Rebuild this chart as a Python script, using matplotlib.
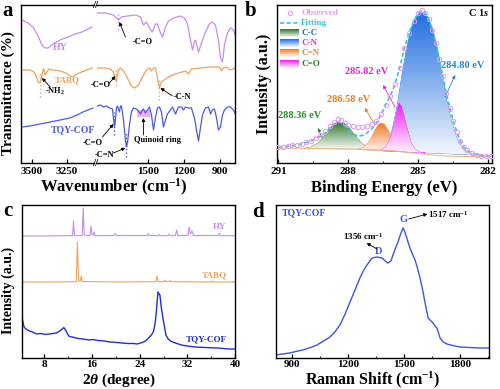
import numpy as np
import matplotlib
matplotlib.use("Agg")
import matplotlib.pyplot as plt
from matplotlib.colors import LinearSegmentedColormap
from matplotlib.ticker import MultipleLocator

# ---------------- data ----------------
# (a) FTIR, (wavenumber, offset transmittance)
hy_ir_hi = [(3571, 143), (3529, 140), (3493, 136), (3457, 127), (3429, 118), (3407, 115), (3386, 115),
            (3350, 119), (3300, 123), (3243, 126), (3193, 129), (3143, 131), (3100, 134), (3071, 136)]
hy_ir_lo = [(1925, 150), (1858, 150), (1792, 148), (1767, 145), (1750, 143), (1725, 146), (1675, 147),
            (1608, 148), (1567, 146), (1542, 138), (1517, 141), (1492, 135), (1467, 131), (1442, 139),
            (1425, 139), (1400, 130), (1383, 126), (1358, 136), (1333, 142), (1292, 145), (1233, 147),
            (1200, 145), (1175, 139), (1150, 123), (1133, 113), (1117, 121), (1108, 123), (1083, 111),
            (1058, 120), (1025, 131), (992, 139), (967, 141), (942, 138), (917, 123), (900, 105),
            (883, 101), (867, 118), (842, 130), (817, 135), (792, 133), (779, 128)]
tabq_ir_hi = [(3571, 93), (3514, 93), (3486, 91), (3471, 87), (3457, 81), (3443, 80), (3429, 87),
              (3421, 94), (3414, 93), (3407, 88), (3393, 91), (3379, 94), (3350, 93), (3300, 92),
              (3257, 90), (3229, 87), (3207, 86), (3179, 89), (3129, 92), (3071, 95)]
tabq_ir_lo = [(1925, 95), (1858, 95), (1817, 94), (1792, 91), (1775, 83), (1767, 82), (1750, 93),
              (1733, 95), (1708, 92), (1675, 85), (1642, 77), (1617, 75), (1583, 78), (1550, 86),
              (1517, 93), (1492, 95), (1475, 92), (1458, 95), (1442, 95), (1425, 85), (1408, 75),
              (1392, 81), (1358, 84), (1317, 87), (1250, 90), (1192, 92), (1167, 89), (1142, 94),
              (1067, 95), (983, 96), (908, 96), (892, 92), (875, 95), (850, 96), (817, 93), (779, 95)]
cof_ir_hi = [(3571, 36), (3514, 37), (3443, 39), (3371, 41), (3300, 43), (3229, 45), (3179, 48),
             (3136, 51), (3100, 53), (3064, 55)]
cof_ir_lo = [(1925, 57), (1900, 58), (1875, 56), (1850, 57), (1825, 55), (1800, 54), (1792, 45),
             (1783, 36), (1775, 43), (1767, 55), (1758, 57), (1742, 51), (1733, 57), (1725, 57),
             (1708, 43), (1692, 23), (1683, 16), (1675, 20), (1658, 38), (1642, 51), (1625, 55),
             (1600, 54), (1583, 52), (1567, 49), (1550, 53), (1542, 54), (1525, 50), (1508, 53),
             (1492, 56), (1475, 48), (1458, 33), (1442, 45), (1425, 55), (1408, 56), (1392, 51),
             (1375, 36), (1358, 43), (1342, 49), (1317, 53), (1300, 56), (1275, 49), (1250, 56),
             (1225, 56), (1208, 53), (1192, 56), (1167, 55), (1142, 55), (1117, 45), (1100, 33),
             (1083, 22), (1067, 35), (1050, 48), (1025, 55), (1000, 56), (983, 49), (967, 53),
             (950, 54), (933, 45), (917, 33), (900, 36), (883, 48), (867, 53), (842, 56),
             (817, 56), (792, 53), (779, 50)]

# (b) XPS C 1s, (binding energy, intensity)
xps_observed = [(291.0, 16), (290.8, 16.5), (290.6, 17), (290.4, 18), (290.2, 18.5), (290.0, 19.5),
                (289.8, 21), (289.6, 22.5), (289.4, 25), (289.2, 28), (289.0, 32), (288.8, 37),
                (288.6, 41), (288.45, 44), (288.3, 43), (288.15, 40.5), (288.0, 38.5), (287.8, 37),
                (287.6, 36), (287.4, 36), (287.2, 37), (287.0, 39), (286.8, 42.5), (286.6, 49),
                (286.4, 58), (286.2, 67), (286.0, 79), (285.8, 95), (285.6, 115), (285.4, 130),
                (285.2, 142), (285.0, 150), (284.84, 153), (284.7, 150), (284.55, 144), (284.4, 133),
                (284.25, 120), (284.1, 104), (283.95, 87), (283.8, 70), (283.65, 55), (283.5, 42),
                (283.35, 31), (283.2, 22), (283.05, 16), (282.9, 13), (282.7, 10), (282.5, 8.5),
                (282.3, 7.5), (282.1, 7), (281.9, 7)]
xps_fitting = [(291.0, 15.5), (290.5, 17), (290.0, 19), (289.6, 22), (289.3, 25.5), (289.0, 30),
               (288.8, 35), (288.6, 39.5), (288.45, 41), (288.3, 40), (288.15, 37), (288.0, 33),
               (287.8, 29), (287.6, 27), (287.4, 27.5), (287.2, 30), (287.0, 34), (286.8, 40),
               (286.6, 48), (286.4, 58), (286.2, 67), (286.0, 79), (285.8, 95), (285.6, 115),
               (285.4, 130), (285.2, 142), (285.0, 150), (284.84, 152), (284.7, 150), (284.55, 144),
               (284.4, 133), (284.25, 120), (284.1, 104), (283.95, 87), (283.8, 70), (283.65, 55),
               (283.5, 42), (283.35, 31), (283.2, 22), (283.05, 16), (282.9, 12.5), (282.7, 10),
               (282.5, 8.5), (282.2, 7.2), (281.9, 7)]
xps_cc = [(289.9, 14.5), (289.6, 16), (289.3, 20), (289.1, 25), (288.9, 31), (288.7, 37), (288.5, 40.5),
          (288.36, 41), (288.2, 40), (288.0, 36), (287.8, 30), (287.6, 24), (287.4, 19), (287.1, 15.5),
          (286.8, 14)]
xps_cn = [(286.5, 12), (286.3, 18), (286.1, 35), (285.9, 58), (285.7, 88), (285.5, 115), (285.3, 135),
          (285.1, 146), (284.9, 150.5), (284.8, 150), (284.6, 146), (284.4, 135), (284.2, 116),
          (284.0, 90), (283.8, 65), (283.6, 44), (283.4, 28), (283.2, 18), (283.0, 12), (282.7, 9),
          (282.4, 8)]
xps_c_n = [(287.6, 13.5), (287.35, 15.5), (287.15, 20), (287.0, 26), (286.85, 33), (286.7, 38.5),
           (286.58, 40), (286.45, 38.5), (286.3, 33), (286.15, 26), (286.0, 20), (285.8, 15),
           (285.5, 12), (285.2, 11)]
xps_co = [(286.6, 13), (286.4, 16), (286.25, 22), (286.1, 32), (285.98, 44), (285.88, 55), (285.82, 60),
          (285.72, 56), (285.6, 46), (285.45, 32), (285.3, 20), (285.15, 14), (284.95, 11), (284.7, 10)]
xps_background = [(291.0, 15), (289.5, 14.5), (288.0, 14), (287.0, 13.5), (286.2, 12.5), (285.6, 11),
                  (285.0, 9.5), (284.4, 8), (283.8, 7), (283.0, 6.5), (281.9, 6.5)]

# (c) PXRD, (2theta, offset intensity)
hy_xrd = [(4.25, 122), (8, 122), (12.0, 122.3), (12.75, 122.5), (12.9, 137), (13.05, 122.5),
          (13.3, 122.3), (14.35, 122.5), (14.53, 150), (14.7, 123), (15.0, 122.5), (15.65, 122.5),
          (15.84, 132), (16.0, 123), (16.2, 123), (16.33, 126), (16.5, 122.5), (17.0, 122.3),
          (19.7, 122.5), (19.9, 124.5), (20.1, 122.5), (25.3, 122.5), (25.47, 124.5), (25.65, 122.5),
          (27.1, 122.3), (27.3, 123.5), (27.5, 122.3), (28.7, 122.3), (28.9, 124), (29.1, 122.3),
          (30.0, 122.3), (30.2, 128), (30.4, 122.5), (32.1, 122.5), (32.3, 131), (32.5, 124),
          (32.8, 127), (33.0, 122.5), (37.2, 122.5), (37.4, 124.5), (37.6, 122.3), (40, 122.3)]
tabq_xrd = [(4.25, 76), (10, 76), (13.35, 76.3), (13.55, 116), (13.75, 77), (14.05, 77), (14.2, 82),
            (14.35, 76.5), (20, 76), (26.7, 76.3), (26.9, 82), (27.1, 76.5), (28.0, 76.3), (28.2, 78),
            (28.4, 76.5), (28.9, 76.5), (29.1, 77.5), (29.3, 76.3), (36.0, 76), (36.2, 77), (36.4, 76),
            (40, 76)]
cof_xrd = [(4.25, 41), (4.4, 36), (4.6, 31), (4.9, 29), (5.5, 27), (6.0, 26), (6.7, 24), (7.5, 24.5),
           (8.2, 23.5), (8.8, 24), (9.5, 24.5), (10.0, 25), (10.45, 26.5), (10.9, 28.5), (11.27, 30.5),
           (11.45, 29), (11.6, 27.5), (11.9, 24), (12.2, 21.5), (13.0, 20.5), (13.7, 19.5), (14.5, 19),
           (15.5, 18), (16.2, 18.5), (17.0, 17.5), (18, 17), (19, 16), (20.2, 15.5), (21, 15),
           (22, 14.5), (23.0, 14.5), (23.5, 14), (24.2, 15), (24.65, 16), (25.1, 17.5), (25.47, 20),
           (25.9, 22.5), (26.3, 26), (26.6, 35), (26.8, 46), (26.95, 58), (27.1, 66), (27.25, 64),
           (27.4, 63), (27.6, 52), (27.9, 40), (28.2, 30), (28.4, 23), (28.8, 19), (29.3, 16.5),
           (30.0, 15), (31, 13), (32, 12), (33.3, 11), (35, 10.5), (37, 10), (39, 9), (40, 9)]

# (d) Raman, (shift, intensity)
raman = [(815, 3), (850, 4), (889, 5), (920, 6.5), (959, 8), (1000, 10.5), (1034, 13), (1070, 17),
         (1104, 21), (1130, 26), (1157, 33), (1185, 44), (1211, 56), (1238, 68), (1264, 80),
         (1285, 88), (1302, 93), (1329, 100), (1355, 101), (1382, 100), (1400, 97), (1415, 95),
         (1430, 97), (1441, 103), (1455, 110), (1468, 116), (1482, 124), (1495, 130), (1505, 126),
         (1520, 117), (1532, 110), (1545, 104), (1559, 98), (1572, 90), (1586, 80), (1600, 68),
         (1612, 56), (1629, 40), (1645, 37), (1655, 35), (1670, 31), (1677, 30), (1693, 20),
         (1710, 16), (1730, 14), (1760, 12.5), (1800, 11), (1850, 10.5), (1907, 10), (1955, 10)]

# ---------------- style ----------------
plt.rcParams.update({
    'font.family': 'Liberation Serif',
    'font.weight': 'bold',
    'axes.labelweight': 'bold',
    'mathtext.fontset': 'custom',
    'mathtext.rm': 'Liberation Serif:bold',
    'mathtext.it': 'Liberation Serif:italic:bold',
    'mathtext.bf': 'Liberation Serif:bold',
    'axes.linewidth': 1.0,
    'xtick.direction': 'in',
    'xtick.major.size': 3,
    'xtick.minor.size': 1.8,
    'xtick.major.width': 0.9,
    'xtick.labelsize': 8,
    'xtick.major.pad': 3,
})

c_hy, c_tabq = '#c38ef0', '#efa25c'
c_cc, c_cn, c_c_n, c_co = '#2e7a2e', '#1f6fe0', '#f07a28', '#f01ef0'
c_obs, c_fit = '#e49af0', '#3cc4d4'

W, H = 500, 389
fig = plt.figure(figsize=(W / 100, H / 100), dpi=100)


def box(x0, y0, x1, y1):
    return [x0 / W, 1 - y1 / H, (x1 - x0) / W, (y1 - y0) / H]


def xy(pts):
    a = np.array(pts, dtype=float)
    return a[:, 0], a[:, 1]


def arrow(ax, tail, head, color='k', lw=0.6, ms=5):
    ax.annotate('', xy=head, xytext=tail, annotation_clip=False,
                arrowprops=dict(arrowstyle='-|>', color=color, lw=lw, mutation_scale=ms,
                                shrinkA=0, shrinkB=0))


def ftext(px, py, s, **kw):
    fig.text(px / W, 1 - py / H, s, ha=kw.pop('ha', 'center'), va=kw.pop('va', 'center'), **kw)


# ---------------- (a) FTIR ----------------
axL = fig.add_axes(box(21, 5, 94, 163))
axR = fig.add_axes(box(96, 5, 235, 163))
axL.spines['right'].set_visible(False)
axR.spines['left'].set_visible(False)
for ax in (axL, axR):
    ax.set_yticks([])
    ax.set_ylim(0, 158)
axL.set_xlim(3579, 3057)
axR.set_xlim(1937, 779)
axL.set_xticks([3500, 3250])
axR.set_xticks([1500, 1200, 900])

for hi, lo, c in [(hy_ir_hi, hy_ir_lo, c_hy), (tabq_ir_hi, tabq_ir_lo, c_tabq),
                  (cof_ir_hi, cof_ir_lo, '#4b5ae6')]:
    axL.plot(*xy(hi), color=c, lw=0.9)
    axR.plot(*xy(lo), color=c, lw=0.9)

# dotted markers
axR.plot([1750, 1750], [133, 151], ls=':', color=c_hy, lw=1)
axL.plot([3443, 3443], [66, 90], ls=':', color=c_tabq, lw=1)
axR.plot([1767, 1767], [77, 95], ls=':', color=c_tabq, lw=1)
axR.plot([1408, 1408], [63, 85], ls=':', color=c_tabq, lw=1)
axR.plot([1783, 1783], [28, 51], ls=':', color='#4b5ae6', lw=1)
axR.plot([1683, 1683], [6, 31], ls=':', color='#4b5ae6', lw=1)
axR.fill_between([1592, 1483], 46, 53, color='#f08ce6', alpha=0.7, lw=0)

fs_small = 6
axL.text(3300, 116, 'HY', color=c_hy, fontsize=7, ha='center', va='center')
axL.text(3250, 83, 'TABQ', color=c_tabq, fontsize=6.5, ha='center', va='center')
axL.text(3207, 33, 'TQY-COF', color='#4b5ae6', fontsize=7, ha='center', va='center')
axR.text(1550, 121, '-C=O', fontsize=fs_small, ha='center', va='center')
arrow(axR, (1692, 126), (1742, 141))
axL.text(3336, 72, '-NH$_2$', fontsize=fs_small, ha='center', va='center')
arrow(axL, (3371, 76), (3429, 85))
axR.text(1900, 78, '-C=O', fontsize=fs_small, ha='center', va='center')
arrow(axR, (1825, 80), (1775, 87))
axR.text(1217, 66, '-C-N', fontsize=fs_small, ha='center', va='center')
arrow(axR, (1300, 67), (1400, 75))
axR.text(1967, 20, '-C=O', fontsize=fs_small, ha='center', va='center')
arrow(axR, (1883, 26), (1792, 39))
axR.text(1867, 8, '-C=N', fontsize=fs_small, ha='center', va='center')
arrow(axR, (1792, 10), (1692, 15))
axR.text(1425, 23, 'Quinoid ring', fontsize=fs_small, ha='center', va='center')
arrow(axR, (1542, 28), (1542, 45))

ftext(95, 5, '//', fontsize=8)
ftext(95, 163, '//', fontsize=8)
ftext(114, 192, 'Wavenumber (cm$^{-1}$)', fontsize=12, va='baseline')
ftext(8, 93, 'Transmittance (%)', fontsize=11, rotation=90)
ftext(8, 11, 'a', fontsize=15)

# ---------------- (b) XPS ----------------
axb = fig.add_axes(box(277, 5, 492, 163))
for pts, c, z in [(xps_cn, c_cn, 2), (xps_cc, c_cc, 3), (xps_c_n, c_c_n, 3), (xps_co, c_co, 4)]:
    x, y = xy(pts)
    poly = axb.fill(x, y, facecolor='none', edgecolor=c, lw=0.5, zorder=z)[0]
    cmap = LinearSegmentedColormap.from_list('g', ['white', c])
    im = axb.imshow(np.linspace(0.05, 1, 100).reshape(-1, 1), cmap=cmap, vmin=0, vmax=1,
                    origin='lower', aspect='auto', interpolation='bilinear',
                    extent=[x.min(), x.max(), y.min(), y.max()], zorder=z)
    im.set_clip_path(poly)
axb.plot(*xy(xps_background), color='#f3b07a', lw=0.7, zorder=5)
axb.plot(*xy(xps_fitting), color=c_fit, lw=1.2, dashes=(2.5, 1.5), zorder=6)
axb.plot(*xy(xps_observed), 'o', mfc='none', mec=c_obs, ms=3.2, mew=0.7, zorder=7)
axb.set_xlim(291.06, 281.84)
axb.set_ylim(0, 158)
axb.set_yticks([])
axb.set_xticks([291, 288, 285, 282])
axb.xaxis.set_minor_locator(MultipleLocator(1.5))

fs_b = 7.5
axb.text(283.08, 97, '284.80 eV', color='#2a84d6', fontsize=fs_b, ha='center', va='center')
arrow(axb, (283.85, 66), (283.42, 88), color='#2a84d6')
axb.text(287.2, 91, '285.82 eV', color='#e81ee8', fontsize=fs_b, ha='center', va='center')
arrow(axb, (286.0, 56), (286.51, 78), color='#e81ee8')
axb.text(287.97, 64, '286.58 eV', color='#f07a20', fontsize=fs_b, ha='center', va='center')
arrow(axb, (286.86, 38), (287.29, 55), color='#f07a20')
axb.text(290.1, 48, '288.36 eV', color='#2e8b2e', fontsize=fs_b, ha='center', va='center')
arrow(axb, (289.13, 25), (289.3, 35), color='#2e8b2e')
axb.text(0.985, 0.95, 'C 1$\\mathit{s}$', transform=axb.transAxes, fontsize=7.5, ha='right', va='center')


def bpt(px, py):
    return (px - 277) / 215, (163 - py) / 158


# manual legend
axb.plot(*bpt(290, 13), 'o', mfc='none', mec=c_obs, ms=3.2, mew=0.7, transform=axb.transAxes)
axb.plot([bpt(280, 23)[0], bpt(299, 23)[0]], [bpt(280, 23)[1]] * 2, color=c_fit, lw=1.2,
         dashes=(2.5, 1.5), transform=axb.transAxes)
leg_rows = [('Observed', c_obs, 13, None), ('Fitting', c_fit, 23, None),
            ('C-C', '#2f6cd0', 33, c_cc), ('C-N', '#e030e0', 43, c_cn),
            ('C=N', '#f08040', 53, c_c_n), ('C=O', '#2e7d32', 64, c_co)]
for label, tc, py, pc in leg_rows:
    axb.text(*bpt(301, py), label, color=tc, fontsize=6.5, ha='left', va='center',
             transform=axb.transAxes)
    if pc is not None:
        x0, y0 = bpt(280, py + 4)
        x1, y1 = bpt(299, py - 4)
        cmap = LinearSegmentedColormap.from_list('g', ['white', pc])
        axb.imshow(np.linspace(0.05, 1, 50).reshape(-1, 1), cmap=cmap, vmin=0, vmax=1,
                   origin='lower', aspect='auto', extent=[x0, x1, y0, y1],
                   transform=axb.transAxes, zorder=8)
axb.set_xlim(291.06, 281.84)
axb.set_ylim(0, 158)

ftext(384, 192, 'Binding Energy (eV)', fontsize=12, va='baseline')
ftext(264, 84, 'Intensity (a.u.)', fontsize=11.5, rotation=90)
ftext(251, 11, 'b', fontsize=15)

# ---------------- (c) PXRD ----------------
axc = fig.add_axes(box(22, 205, 235, 358))
axc.plot(*xy(hy_xrd), color=c_hy, lw=0.8)
axc.plot(*xy(tabq_xrd), color=c_tabq, lw=0.8)
axc.plot(*xy(cof_xrd), color='#1f2fd6', lw=1.0)
axc.set_xlim(4.25, 40)
axc.set_ylim(0, 153)
axc.set_yticks([])
axc.set_xticks([8, 16, 24, 32, 40])
axc.xaxis.set_minor_locator(MultipleLocator(4))
axc.tick_params(axis='x', pad=1.5)
axc.text(38.6, 131, 'HY', color=c_hy, fontsize=6.5, ha='right', va='center')
axc.text(38.6, 83, 'TABQ', color=c_tabq, fontsize=6.5, ha='right', va='center')
axc.text(38.6, 19, 'TQY-COF', color='#1f2fd6', fontsize=6.5, ha='right', va='center')
ftext(119, 384, '2$\\mathit{\\theta}$ (degree)', fontsize=11, va='baseline')
ftext(8, 290, 'Intensity (a.u.)', fontsize=10, rotation=90)
ftext(8, 211, 'c', fontsize=15)

# ---------------- (d) Raman ----------------
axd = fig.add_axes(box(276, 205, 489, 358))
axd.plot(*xy(raman), color='#3c55e6', lw=1.0)
axd.set_xlim(815, 1955)
axd.set_ylim(0, 153)
axd.set_yticks([])
axd.set_xticks([900, 1200, 1500, 1800])
axd.xaxis.set_minor_locator(MultipleLocator(150))
axd.tick_params(axis='x', pad=1.5)
axd.text(0.028, 0.948, 'TQY-COF', color='#3c55e6', fontsize=7, ha='left', va='center',
         transform=axd.transAxes)
axd.text(1500, 138, 'G', color='#3c55e6', fontsize=7.5, ha='center', va='center')
axd.text(1366, 106, 'D', color='#3c55e6', fontsize=7.5, ha='center', va='center')
axd.text(1280, 122, '1356 cm$^{-1}$', fontsize=6.5, ha='center', va='center')
arrow(axd, (1355, 109), (1300, 115))
axd.text(1735, 144, '1517 cm$^{-1}$', fontsize=6.5, ha='center', va='center')
arrow(axd, (1525, 139), (1625, 144))
ftext(373, 384, 'Raman Shift (cm$^{-1}$)', fontsize=11.5, va='baseline')
ftext(258, 212, 'd', fontsize=15)

fig.savefig('out.png', dpi=100)
